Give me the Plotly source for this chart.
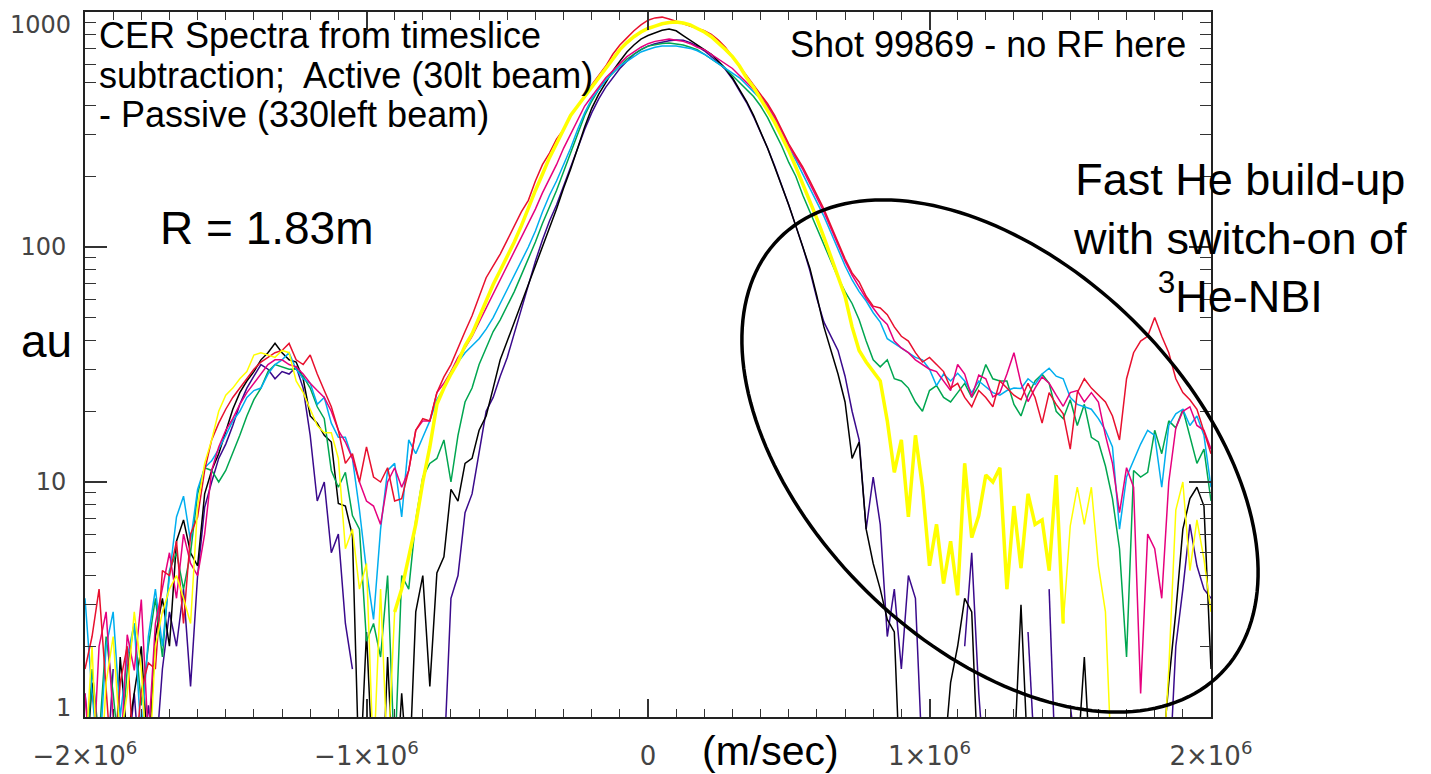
import math
import plotly.graph_objects as go

# ---------------- data ----------------
velocity = list(range(-2000000, 2000001, 25000))  # m/sec, 161 samples

v_red = [
    1.6, 2.2, 3.5, 1.3, 0.5, 1.4, 2.0, 0.6, 1.3, 1.7,
    1.6, 4.2, 4.0, 5.6, 2.5, 6.0, 7.1, 11.2, 15.1, 17.8,
    20.4, 22.9, 25.1, 27.5, 30.2, 32.4, 33.9, 35.5, 36.3, 38.9,
    33.1, 31.6, 34.7, 28.8, 24.5, 20.9, 16.6, 12.0, 13.2, 10.0,
    14.1, 10.5, 10.0, 11.5, 8.3, 8.5, 11.2, 16.6, 18.6, 18.2,
    24.0, 28.0, 31.6, 37.5, 43.7, 51.0, 61.0, 74.0, 83.2, 93.3,
    107, 123, 141, 158, 191, 224, 251, 288, 316, 363,
    398, 437, 490, 537, 589, 661, 724, 776, 832, 881,
    923, 944, 951, 933, 912, 891, 871, 851, 832, 804,
    759, 708, 646, 589, 537, 490, 447, 407, 363, 316,
    275, 245, 219, 191, 166, 145, 123, 105, 89.1, 77.6,
    71.0, 61.7, 56.0, 55.0, 51.5, 45.7, 41.7, 39.8, 35.5, 32.4,
    33.9, 31.6, 29.5, 25.1, 26.3, 22.9, 20.9, 24.5, 22.9, 20.9,
    26.9, 25.1, 23.4, 22.4, 26.3, 22.9, 17.8, 24.0, 21.4, 19.5,
    13.8, 24.0, 27.5, 25.1, 23.4, 21.9, 19.1, 15.1, 27.5, 35.5,
    39.8, 41.7, 50.1, 41.7, 35.5, 27.5, 24.0, 22.4, 20.4, 16.6,
    13.2,
]

v_magenta = [
    1.26, 0.5, 2.0, 2.8, 1.0, 0.63, 2.24, 1.58, 3.16, 0.8,
    2.5, 3.5, 5.0, 3.2, 6.0, 4.5, 4.0, 6.0, 11.2, 14.1,
    16.6, 18.6, 21.4, 24.0, 26.3, 28.8, 31.6, 33.1, 33.1, 31.6,
    30.9, 28.8, 26.3, 24.5, 22.9, 20.0, 16.6, 14.8, 12.6, 10.0,
    8.3, 7.9, 6.6, 10.0, 11.5, 9.5, 11.2, 16.6, 18.2, 18.2,
    24.0, 26.3, 29.5, 33.9, 37.2, 41.7, 47.9, 55.0, 63.1, 72.4,
    83.2, 95.5, 110, 126, 145, 170, 195, 224, 263, 302,
    347, 398, 437, 479, 525, 562, 603, 646, 676, 708,
    733, 750, 759, 767, 759, 750, 733, 708, 692, 661,
    631, 603, 575, 537, 501, 468, 437, 398, 355, 309,
    269, 240, 214, 186, 162, 141, 120, 102, 87.1, 75.9,
    67.6, 60.3, 55.0, 50.1, 46.8, 39.8, 37.2, 35.5, 33.1, 31.6,
    30.2, 29.5, 26.9, 24.5, 31.6, 28.8, 23.0, 28.5, 27.5, 23.0,
    24.0, 28.8, 35.5, 26.3, 22.0, 25.1, 28.0, 26.3, 23.4, 21.0,
    24.0, 24.5, 21.9, 24.0, 21.9, 15.8, 12.0, 7.4, 11.5, 9.5,
    1.26, 6.0, 5.2, 3.2, 10.0, 17.0, 20.0, 20.9, 17.4, 16.6,
    13.8,
]

v_cyan = [
    3.2, 1.26, 0.63, 2.0, 2.8, 1.0, 1.8, 2.5, 0.8, 2.2,
    3.5, 2.0, 4.0, 7.1, 8.7, 5.6, 9.3, 11.5, 12.3, 13.8,
    15.8, 18.2, 20.0, 22.9, 24.5, 25.1, 28.8, 31.6, 33.1, 35.5,
    30.2, 27.5, 26.3, 21.4, 22.9, 17.8, 15.5, 15.5, 12.6, 7.6,
    4.2, 2.6, 6.3, 11.2, 12.0, 7.1, 15.1, 13.2, 15.5, 18.2,
    22.4, 25.1, 29.5, 32.4, 35.5, 38.0, 40.7, 44.7, 50.1, 57.5,
    66.1, 75.9, 87.1, 100, 117, 141, 166, 191, 224, 263,
    316, 372, 427, 468, 513, 550, 589, 617, 646, 676,
    692, 708, 716, 716, 716, 708, 700, 684, 661, 631,
    603, 575, 550, 525, 490, 457, 427, 389, 347, 302,
    263, 234, 204, 178, 155, 135, 115, 97.7, 83.2, 72.4,
    64.6, 58.9, 52.5, 47.9, 40.7, 38.9, 37.2, 35.5, 33.9, 33.1,
    30.2, 25.7, 28.8, 26.9, 29.0, 26.9, 24.0, 26.9, 25.5, 24.0,
    23.4, 24.5, 25.1, 25.0, 27.5, 26.0, 28.8, 30.5, 28.2, 27.5,
    22.9, 21.4, 20.9, 20.4, 18.6, 16.6, 14.1, 6.3, 10.5, 12.3,
    14.5, 16.6, 15.8, 9.5, 17.4, 19.5, 20.4, 17.4, 19.1, 15.8,
    9.5,
]

v_green = [
    0.5, 1.6, 0.8, 2.2, 1.26, 0.63, 1.6, 2.5, 1.12, 2.0,
    3.2, 1.8, 4.2, 5.0, 3.5, 5.0, 8.9, 11.5, 11.2, 10.0,
    11.2, 13.2, 15.8, 19.1, 22.4, 25.1, 29.5, 31.6, 30.9, 30.2,
    30.2, 28.2, 25.1, 20.9, 18.6, 11.2, 9.5, 11.0, 7.2, 6.3,
    2.1, 2.5, 1.8, 4.0, 0.63, 4.0, 3.5, 6.9, 10.5, 12.0,
    12.6, 15.1, 10.0, 15.8, 21.9, 25.1, 31.6, 37.2, 43.7, 49.0,
    56.2, 64.6, 75.9, 89.1, 105, 126, 148, 174, 209, 251,
    302, 363, 417, 468, 513, 550, 589, 631, 661, 692,
    716, 728, 735, 738, 733, 724, 708, 692, 661, 631,
    603, 575, 537, 501, 468, 437, 398, 355, 309, 269,
    229, 200, 166, 141, 120, 102, 87.1, 74.1, 64.6, 57.5,
    49.0, 39.8, 33.1, 30.9, 33.1, 27.5, 26.9, 25.1, 21.9, 20.0,
    24.5, 25.7, 22.9, 21.9, 24.0, 26.3, 22.9, 25.7, 31.6, 27.5,
    26.9, 26.9, 21.4, 19.1, 23.4, 26.9, 28.8, 26.3, 20.0, 18.6,
    22.4, 17.4, 21.4, 15.5, 14.8, 11.7, 8.5, 5.2, 1.8, 11.2,
    10.5, 11.0, 16.6, 13.2, 18.2, 17.0, 20.4, 15.8, 12.0, 13.8,
    8.3,
]

v_yellow = [
    0.63, 2.0, 0.4, 1.4, 2.2, 0.8, 1.26, 2.8, 1.6, 0.5,
    2.0, 2.8, 3.5, 4.0, 3.2, 2.5, 7.9, 12.0, 15.1, 20.0,
    23.4, 25.1, 27.5, 29.5, 34.7, 35.5, 34.7, 33.9, 36.3, 35.5,
    26.9, 24.0, 20.4, 17.4, 16.2, 16.2, 12.6, 5.2, 6.3, 3.5,
    4.5, 0.63, 3.5, 0.63, 2.8, 3.5, 4.8, 6.6, 10.0, 14.1,
    21.4, 25.1, 28.8, 32.4, 38.0, 42.7, 50.1, 58.9, 69.2, 79.4,
    91.2, 105, 123, 148, 174, 204, 240, 275, 316, 363,
    398, 437, 479, 525, 575, 631, 692, 741, 785, 822,
    851, 871, 891, 902, 906, 897, 881, 851, 822, 785,
    741, 692, 646, 589, 525, 479, 427, 380, 339, 295,
    257, 219, 186, 158, 132, 110, 91.2, 75.9, 61.7, 45.7,
    36.3, 32.4, 29.5, 26.9, 18.2, 11.0, 15.1, 7.1, 15.8, 9.5,
    4.4, 6.6, 3.7, 5.6, 3.3, 12.0, 5.8, 7.2, 10.7, 10.0,
    11.5, 3.5, 7.9, 4.3, 8.9, 6.6, 6.9, 4.2, 10.7, 2.5,
    6.5, 9.5, 6.6, 9.5, 4.4, 2.8, 0.5, None, None, None,
    None, None, None, 0.5, 1.6, 7.6, 10.0, 4.2, 6.9, 4.7,
    2.8,
]

v_black = [
    0.5, 1.4, 0.63, 1.0, 0.4, 1.8, 0.8, 1.26, 2.0, 0.63,
    2.2, 3.2, 2.0, 5.6, 6.9, 5.0, 4.4, 8.9, 11.2, 13.2,
    16.6, 20.4, 24.0, 26.9, 29.5, 33.1, 35.5, 38.9, 35.5, 33.1,
    32.4, 27.5, 19.1, 17.8, 15.8, 14.8, 8.1, 7.9, 5.9, 0.5,
    2.3, 0.5, 0.3, 1.8, 0.4, 1.26, 0.5, 2.8, 4.0, 1.35,
    4.1, 4.8, 9.3, 8.3, 12.0, 12.6, 16.6, 19.1, 25.1, 33.1,
    39.8, 47.9, 57.5, 69.2, 83.2, 100, 120, 145, 178, 214,
    263, 324, 389, 447, 501, 562, 617, 676, 724, 767,
    794, 817, 836, 847, 832, 794, 759, 724, 692, 661,
    617, 575, 525, 468, 417, 363, 309, 263, 219, 182,
    151, 123, 100, 81.3, 61.7, 45.7, 36.3, 28.8, 21.9, 12.6,
    14.8, 6.3, 4.5, 3.5, 2.6, 2.3, 0.4, None, None, 0.5,
    None, None, 0.63, 1.4, 2.0, 3.2, 2.8, 0.5, None, None,
    None, None, 0.63, 3.0, 0.63, None, None, None, None, None,
    None, 0.63, 1.8, 0.5, None, None, None, None, None, None,
    None, None, None, 0.63, 1.4, 2.8, 6.3, 8.5, 9.5, 7.9,
    1.6,
]

v_purple = [
    1.26, 0.63, 1.0, 0.5, 1.6, None, 0.63, 1.26, 0.5, 1.12,
    0.63, 1.6, 2.8, 2.0, 3.5, 1.35, 4.0, 7.8, 10.0, 12.6,
    14.5, 17.4, 21.4, 25.1, 28.2, 31.6, 30.2, 27.5, 29.5, 28.8,
    30.9, 25.1, 15.8, 8.3, 10.0, 5.0, 6.0, 2.5, 1.6, None,
    None, None, None, None, None, None, None, None, None, None,
    None, 0.63, 3.2, 4.0, 7.4, 8.9, 13.2, 20.0, 22.9, 28.2,
    33.9, 42.7, 55.0, 69.2, 87.1, 107, 129, 151, 182, 219,
    263, 316, 372, 427, 479, 525, 575, 617, 661, 692,
    716, 733, 745, 755, 760, 759, 741, 716, 684, 646,
    610, 569, 519, 462, 412, 359, 309, 263, 221, 184,
    151, 123, 100, 79.4, 60.3, 47.9, 41.7, 36.3, 28.2, 20.0,
    15.1, 6.3, 10.5, 6.6, 2.2, 3.5, 1.6, 4.0, 3.2, 0.63,
    None, None, None, None, None, 2.0, 5.0, 1.26, 0.5, None,
    None, None, None, None, 2.3, 0.63, None, 3.5, 0.5, None,
    1.12, 0.63, None, None, None, None, None, None, None, None,
    None, None, None, None, 0.5, 2.0, 3.5, 6.6, 4.4, 3.5,
    3.2,
]

# thick part of the yellow spectrum (velocity window)
yellow_thick_range = (-900000, 1475000)

x_tick_vals = [-2000000, -1000000, 0, 1000000, 2000000]
x_tick_text = ["\u22122\u00d710<sup>6</sup>", "\u22121\u00d710<sup>6</sup>", "0",
               "1\u00d710<sup>6</sup>", "2\u00d710<sup>6</sup>"]
y_tick_vals = [1, 10, 100, 1000]
y_tick_text = ["1", "10", "100", "1000"]
y_minor_vals = [m * d for d in (1, 10, 100) for m in range(2, 10)]

series = [
    ("purple", v_purple, "#3A0A8C"),
    ("black", v_black, "#000000"),
    ("green", v_green, "#00A650"),
    ("cyan", v_cyan, "#00AEEF"),
    ("magenta", v_magenta, "#E6007E"),
    ("red", v_red, "#E8102E"),
    ("yellow", v_yellow, "#FFFF00"),
]
for name, vals, _ in series:
    assert len(vals) == len(velocity), (name, len(vals))

# ---------------- figure ----------------
W, H = 1431, 774
ML, MR, MT, MB = 85, 220, 12, 57
PW, PH = W - ML - MR, H - MT - MB


def fx(p):
    return (p - ML) / PW


def fy(p):
    return (H - MB - p) / PH


fig = go.Figure()
for name, vals, col in series:
    fig.add_trace(go.Scatter(x=velocity, y=vals, mode="lines", name=name,
                             line=dict(color=col, width=1.5), connectgaps=False))

lo, hi = yellow_thick_range
thick = [v if (lo <= x <= hi) else None for x, v in zip(velocity, v_yellow)]
fig.add_trace(go.Scatter(x=velocity, y=thick, mode="lines", name="yellow (thick)",
                         line=dict(color="#FFFF00", width=3.5), connectgaps=False))

fig.update_xaxes(
    range=[-2000000, 2000000], tickmode="array", tickvals=x_tick_vals, ticktext=x_tick_text,
    ticks="inside", ticklen=18, tickwidth=1.5, tickcolor="#333333",
    minor=dict(tickmode="linear", tick0=0, dtick=100000, ticks="inside", ticklen=8,
               tickwidth=1.2, tickcolor="#333333"),
    showline=True, linecolor="#222222", linewidth=2, mirror="ticks",
    showgrid=False, zeroline=False, automargin=False,
    tickfont=dict(family="DejaVu Sans", size=26, color="#444444"), ticklabelstandoff=15,
)
fig.update_yaxes(
    type="log", range=[0, 3], tickmode="array", tickvals=y_tick_vals[1:3],
    ticktext=y_tick_text[1:3],
    ticks="inside", ticklen=22, tickwidth=1.5, tickcolor="#333333",
    minor=dict(tickmode="array", tickvals=y_minor_vals, ticks="inside", ticklen=11,
               tickwidth=1.2, tickcolor="#333333"),
    showline=True, linecolor="#222222", linewidth=2, mirror="ticks",
    showgrid=False, zeroline=False, automargin=False,
    tickfont=dict(family="DejaVu Sans", size=24, color="#444444"), ticklabelstandoff=12,
)

# ellipse highlighting the fast-He region (annotation shape, pixel geometry)
cx, cy, ea, eb, th = 1000, 456, 310, 190, math.radians(44.5)
pts = []
for k in range(181):
    t = 2 * math.pi * k / 180
    X = cx + ea * math.cos(t) * math.cos(th) - eb * math.sin(t) * math.sin(th)
    Y = cy + ea * math.cos(t) * math.sin(th) + eb * math.sin(t) * math.cos(th)
    pts.append(f"{fx(X):.5f},{fy(Y):.5f}")
fig.add_shape(type="path", xref="paper", yref="paper", path="M " + " L ".join(pts) + " Z",
              line=dict(color="black", width=3.5), layer="above")

TXT = "Liberation Sans, Arial, sans-serif"


def note(text, x, y, size, xanchor="center", color="black", family=TXT):
    fig.add_annotation(text=text, x=fx(x), y=fy(y), xref="paper", yref="paper",
                       xanchor=xanchor, yanchor="middle", showarrow=False,
                       font=dict(family=family, size=size, color=color))


note("CER Spectra from timeslice", 97, 35, 36, xanchor="left")
note("subtraction;\u00a0 Active (30lt beam)", 97, 75, 36, xanchor="left")
note("- Passive (330left beam)", 97, 115, 36, xanchor="left")
note("Shot 99869 - no RF here", 988, 45, 36)
note("R = 1.83m", 267, 228, 46)
note("Fast He build-up<br>with switch-on of<br><sup>3</sup>He-NBI", 1240, 238, 45)
note("au", 46, 341, 46)
note("(m/sec)", 770, 751, 41)
note(y_tick_text[0], 73, 708, 24, xanchor="right", color="#444444", family="DejaVu Sans")
note(y_tick_text[3], 73, 25, 24, xanchor="right", color="#444444", family="DejaVu Sans")

fig.update_layout(
    width=W, height=H, margin=dict(l=ML, r=MR, t=MT, b=MB, autoexpand=False),
    paper_bgcolor="white", plot_bgcolor="white", showlegend=False,
)

fig.write_html("out.html")
